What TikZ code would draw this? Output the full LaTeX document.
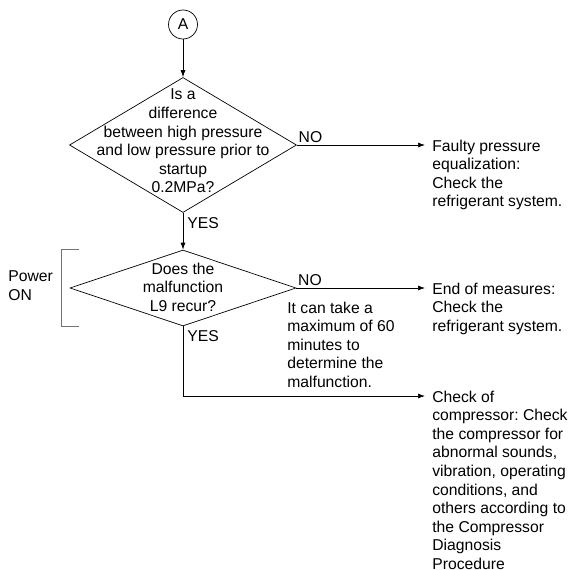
\documentclass[tikz,border=0pt]{standalone}
\usepackage{fontspec}
\setmainfont{Liberation Sans}
\frenchspacing
\usetikzlibrary{shapes.geometric,arrows.meta,positioning}
\tikzset{
  every node/.style={font=\fontsize{15.7}{18.6}\selectfont},
  dia/.style={draw,diamond,inner sep=0pt},
  txt/.style={inner sep=0pt,align=left},
  lbl/.style={inner sep=1.5pt}
}
\newcommand{\outcome}[3]{
  \coordinate (#1end) at (425,#2);
  \node[txt,anchor=north west] (#1) at (432,#2-5.7) {#3};
}

\begin{document}
\begin{tikzpicture}[x=1pt,y=-1pt,line width=0.7pt,>={Latex[length=7pt,width=5pt]}]
    \useasboundingbox (0,0) rectangle (571,570);
    \node[draw,circle,minimum size=29pt,inner sep=0pt] (A) at (183,24.5) {A};

    \node[dia,minimum width=227pt,minimum height=135pt] (q1) at (183,145) {};
    \node[align=center,inner sep=0pt] (q1txt) at (183,141)
        {Is a\\difference\\between high pressure\\and low pressure prior to\\startup\\0.2MPa?};
    \node[dia,minimum width=226pt,minimum height=76pt] (q2) at (183,288) {};
    \node[align=center,inner sep=0pt] (q2txt) at (183,287)
        {Does the\\malfunction\\L9 recur?};

    \outcome{faulty}{145}{Faulty pressure\\equalization:\\Check the\\refrigerant system.}
    \outcome{endm}{288}{End of measures:\\Check the\\refrigerant system.}
    \outcome{comp}{396}{Check of\\compressor: Check\\the compressor for\\abnormal sounds,\\vibration, operating\\conditions, and\\others according to\\the Compressor\\Diagnosis\\Procedure}

    \draw[->] (A) -- (q1);
    \draw[->] (q1) -- (q2);
    \draw[->] (q1.east) -- (faultyend);
    \draw[->] (q2.east) -- (endmend);
    \draw[->] (q2.south) |- (compend);

    \node[lbl,anchor=south west] (no1) at (q1.east) {NO};
    \node[lbl,anchor=north west,inner sep=4pt] (yes1) at (q1.south) {YES};
    \node[lbl,anchor=south west] (no2) at (q2.east) {NO};
    \node[lbl,anchor=north west,inner sep=4pt] (yes2) at (q2.south) {YES};
    \node[txt,anchor=north west] (wait) at (287,301.3)
        {It can take a\\maximum of 60\\minutes to\\determine the\\malfunction.};

    \node[txt,anchor=north west] (power) at (8,270.3) {Power\\ON};
    \draw[black!55,line width=0.9pt] (79,249) -| (61,326) -- (79,326);
\end{tikzpicture}
\end{document}
